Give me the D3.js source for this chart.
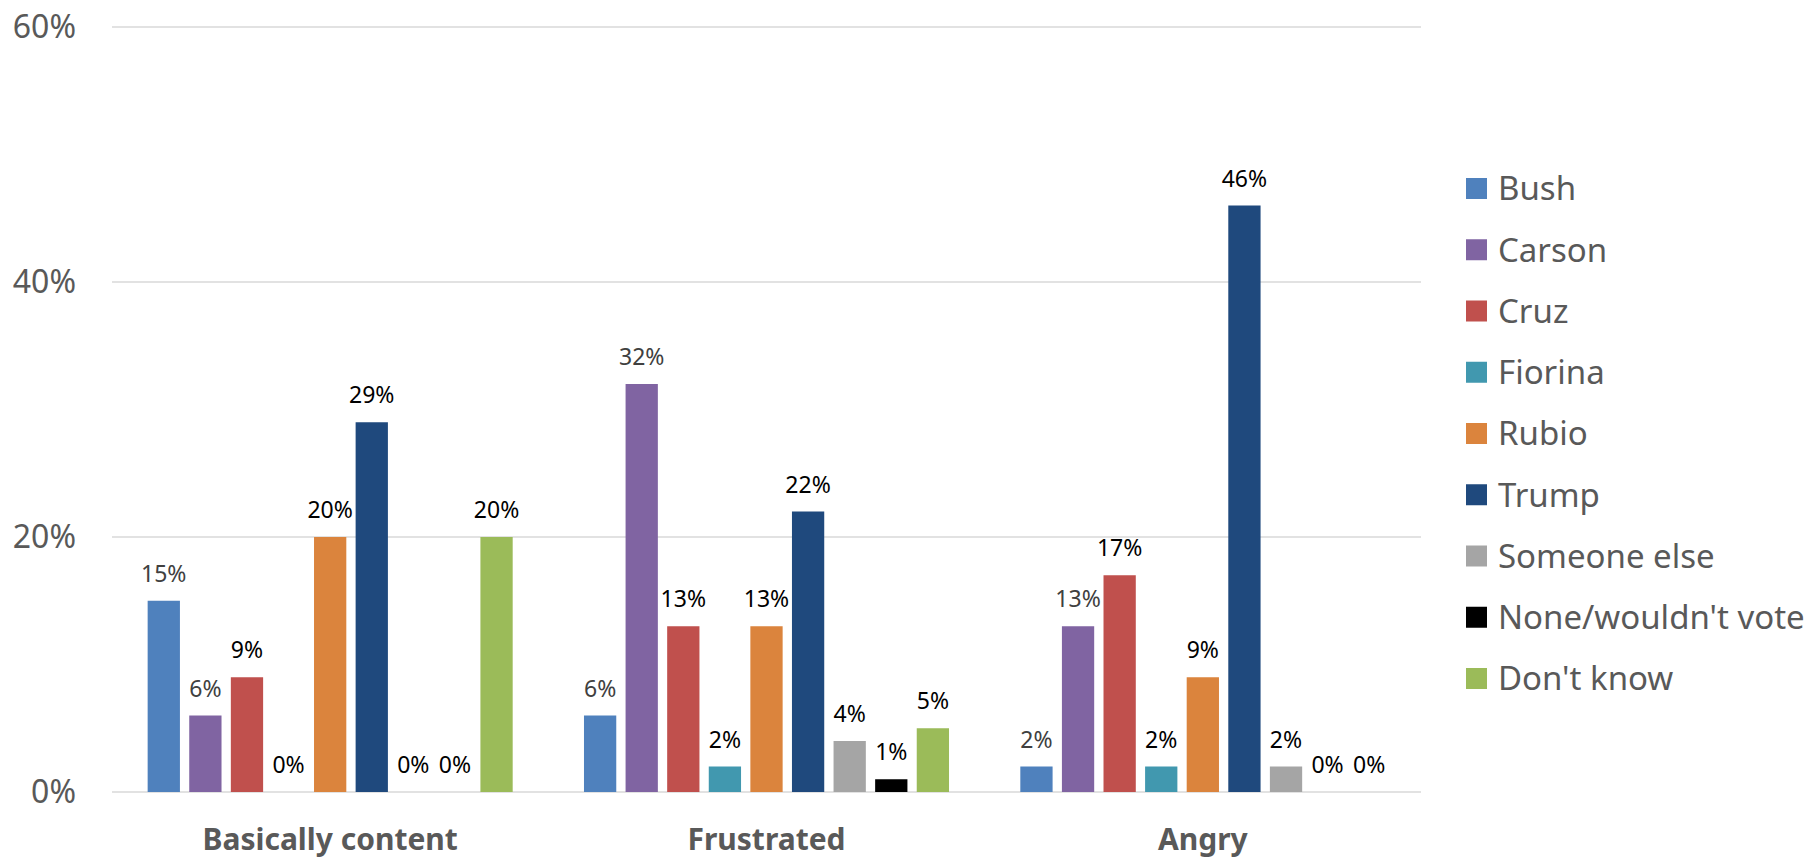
<!DOCTYPE html>
<html>
<head>
<meta charset="utf-8">
<script src="https://cdnjs.cloudflare.com/ajax/libs/d3/7.8.5/d3.min.js"></script>
<style>
    body { margin: 0; background: #fff; }
    svg { display: block; font-family: "Noto Sans", "Open Sans", sans-serif; }
</style>
</head>
<body>
<div id="chart"></div>
<script>
//Data
var categories = ["Basically content", "Frustrated", "Angry"];
var seriesNames = ["Bush", "Carson", "Cruz", "Fiorina", "Rubio", "Trump", "Someone else", "None/wouldn't vote", "Don't know"];
var seriesColors = ["#4f81bd", "#8064a2", "#c0504d", "#4198af", "#db843d", "#1f497d", "#a5a5a5", "#000000", "#9bbb59"];
var basicallyContent = [15, 6, 9, 0, 20, 29, 0, 0, 20];
var frustrated = [6, 32, 13, 2, 13, 22, 4, 1, 5];
var angry = [2, 13, 17, 2, 9, 46, 2, 0, 0];
var yTicks = [0, 20, 40, 60];

var values = [basicallyContent, frustrated, angry];

var width = 1808, height = 858;
var plotLeft = 112, plotRight = 1421, plotTop = 27, plotBottom = 792;

var svg = d3.select("#chart").append("svg")
    .attr("width", width)
    .attr("height", height);

//Scales
var x0 = d3.scaleBand()
    .domain(categories)
    .range([plotLeft, plotRight]);

var x1 = d3.scaleBand()
    .domain(seriesNames)
    .range([0, x0.bandwidth()])
    .paddingInner(0.224)
    .paddingOuter(0.857);

var y = d3.scaleLinear()
    .domain([0, 60])
    .range([plotBottom, plotTop]);

//Gridlines
svg.append("g")
    .selectAll("line")
    .data(yTicks)
    .enter()
    .append("line")
    .attr("x1", plotLeft)
    .attr("x2", plotRight)
    .attr("y1", function (d) { return y(d); })
    .attr("y2", function (d) { return y(d); })
    .style("stroke", "#d9d9d9")
    .style("stroke-width", 1.5);

//Y axis labels
var yAxis = d3.axisLeft(y)
    .tickValues(yTicks)
    .tickSize(0)
    .tickPadding(0)
    .tickFormat(function (d) { return d + "%"; });

var yAxisG = svg.append("g")
    .attr("transform", "translate(76,0)")
    .call(yAxis);
yAxisG.select(".domain").remove();
yAxisG.selectAll("text")
    .style("font-family", "'Noto Sans', sans-serif")
    .style("font-size", "32px")
    .style("fill", "#595959");

//Bars
var groups = svg.selectAll(".group")
    .data(categories)
    .enter()
    .append("g")
    .attr("class", "group")
    .attr("transform", function (d) { return "translate(" + x0(d) + ",0)"; });

var cells = groups.selectAll(".cell")
    .data(function (d, i) {
        return seriesNames.map(function (s, j) {
            return { series: s, idx: j, value: values[i][j] };
        });
    })
    .enter()
    .append("g")
    .attr("class", "cell");

cells.append("rect")
    .attr("x", function (d) { return x1(d.series); })
    .attr("y", function (d) { return y(d.value); })
    .attr("width", x1.bandwidth())
    .attr("height", function (d) { return y(0) - y(d.value); })
    .style("fill", function (d) { return seriesColors[d.idx]; });

//Data labels
cells.append("text")
    .attr("x", function (d) { return x1(d.series) + x1.bandwidth() / 2; })
    .attr("y", function (d) { return y(d.value) - 19; })
    .attr("text-anchor", "middle")
    .style("font-size", "23px")
    .style("fill", function (d) { return d.idx < 2 ? "#404040" : "#000000"; })
    .text(function (d) { return d.value + "%"; });

//Category labels
svg.append("g")
    .selectAll("text")
    .data(categories)
    .enter()
    .append("text")
    .attr("x", function (d) { return x0(d) + x0.bandwidth() / 2; })
    .attr("y", 850)
    .attr("text-anchor", "middle")
    .style("font-size", "30px")
    .style("font-weight", "bold")
    .style("fill", "#595959")
    .text(function (d) { return d; });

//Legend
var legend = svg.append("g")
    .attr("transform", "translate(1466,188.5)");

var legendItems = legend.selectAll(".item")
    .data(seriesNames)
    .enter()
    .append("g")
    .attr("class", "item")
    .attr("transform", function (d, i) { return "translate(0," + (i * 61.25) + ")"; });

legendItems.append("rect")
    .attr("x", 0)
    .attr("y", -10.5)
    .attr("width", 21)
    .attr("height", 21)
    .style("fill", function (d, i) { return seriesColors[i]; });

legendItems.append("text")
    .attr("x", 32)
    .attr("y", 0)
    .attr("dy", "0.36em")
    .style("font-size", "33px")
    .style("fill", "#595959")
    .text(function (d) { return d; });
</script>
</body>
</html>
